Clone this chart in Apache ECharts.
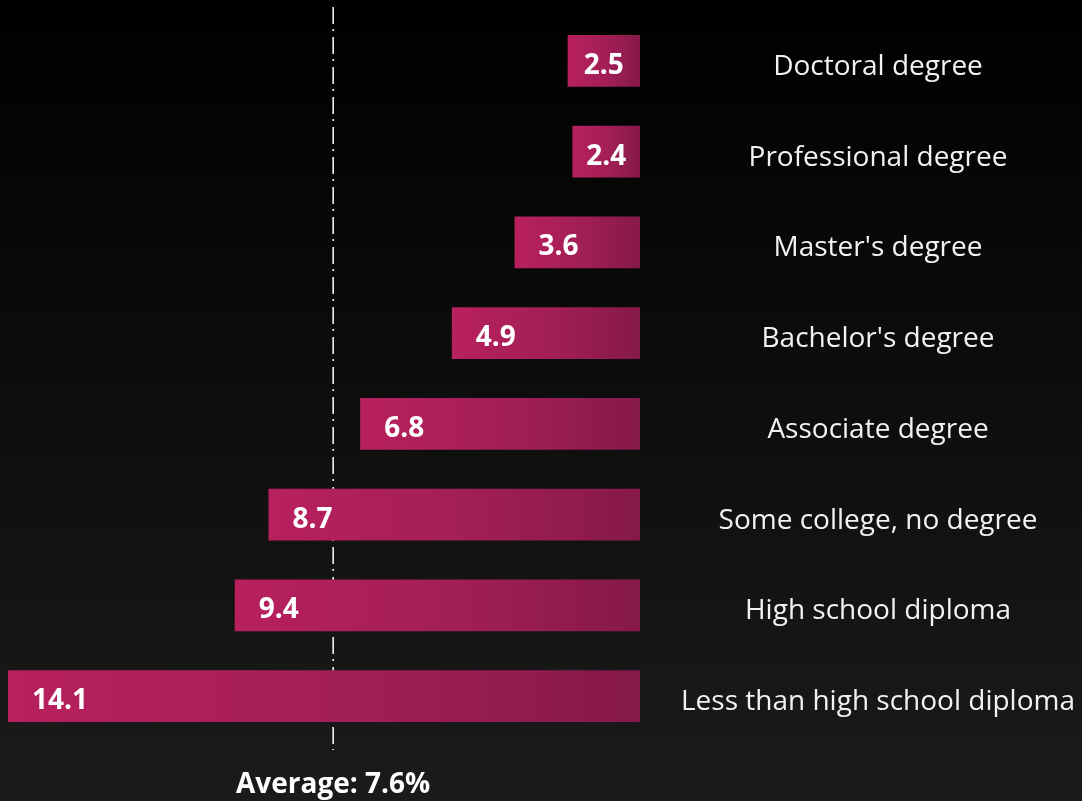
<!DOCTYPE html>
<html>
<head>
<meta charset="utf-8">
<script src="https://cdn.jsdelivr.net/npm/echarts@6/dist/echarts.min.js"></script>
<style>
html,body{margin:0;padding:0;background:#000;}
#chart{width:1082px;height:801px;}
</style>
</head>
<body>
<div id="chart"></div>
<script>
const categories = ["Doctoral degree","Professional degree","Master's degree","Bachelor's degree","Associate degree","Some college, no degree","High school diploma","Less than high school diploma"];
const values = [2.5, 2.4, 3.6, 4.9, 6.8, 8.7, 9.4, 14.1];
const averageLabel = "Average: 7.6%";
const averageLinePos = 7.36;

const FONT = "'Open Sans', 'Noto Sans', sans-serif";
const chart = echarts.init(document.getElementById('chart'));

const data = values.map(function (v) {
  const item = { value: v };
  if (v < 3) {
    item.label = { position: 'inside', distance: 0 };
  }
  return item;
});

chart.setOption({
  backgroundColor: {
    type: 'linear', x: 0, y: 0, x2: 0, y2: 1,
    colorStops: [{ offset: 0, color: '#000000' }, { offset: 1, color: '#1b1b1b' }]
  },
  animation: false,
  grid: [
    { left: 8, right: 442, top: 15.6, bottom: 59.6, containLabel: false },
    { left: 8, right: 442, top: 21.6, bottom: 53.6, containLabel: false }
  ],
  xAxis: [
    { type: 'value', min: 1, max: 14.1, inverse: true, show: false, gridIndex: 0 },
    { type: 'value', min: 1, max: 14.1, inverse: true, show: false, gridIndex: 1 }
  ],
  yAxis: [
    {
      type: 'category', data: categories, inverse: true, gridIndex: 0,
      axisLine: { show: false }, axisTick: { show: false }, splitLine: { show: false },
      axisLabel: { show: false }
    },
    {
      type: 'category', data: categories, inverse: true, position: 'right', gridIndex: 1,
      axisLine: { show: false }, axisTick: { show: false }, splitLine: { show: false },
      axisLabel: {
        color: '#f2f2f2', fontSize: 28, fontFamily: FONT, align: 'center', margin: 238
      }
    }
  ],
  series: [{
    type: 'bar',
    xAxisIndex: 0, yAxisIndex: 0,
    data: data,
    barWidth: '57%',
    itemStyle: {
      color: {
        type: 'linear', x: 0, y: 0, x2: 1, y2: 0,
        colorStops: [
          { offset: 0, color: '#b8205e' },
          { offset: 0.5, color: '#a41f57' },
          { offset: 1, color: '#86194a' }
        ]
      }
    },
    label: {
      show: true, position: 'insideLeft', distance: 24, offset: [0, 5],
      color: '#ffffff', fontSize: 28, fontWeight: 'bold', fontFamily: FONT
    }
  }]
});

const px = chart.convertToPixel({ xAxisIndex: 0 }, averageLinePos);
chart.setOption({
  graphic: [
    {
      type: 'line', silent: true,
      shape: { x1: px, y1: 7, x2: px, y2: 750 },
      style: { stroke: '#ffffff', lineWidth: 1.5, lineDash: [17, 5, 2, 6] }
    },
    {
      type: 'text', silent: true,
      x: px, y: 785,
      style: {
        text: averageLabel, fill: '#ffffff', font: 'bold 28px ' + FONT,
        textAlign: 'center', textVerticalAlign: 'middle'
      }
    }
  ]
});
</script>
</body>
</html>
